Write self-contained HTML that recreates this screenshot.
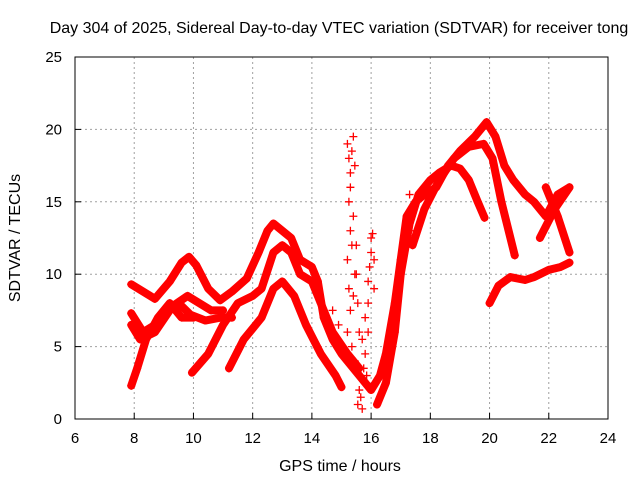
<!DOCTYPE html>
<html><head><meta charset="utf-8">
<style>
body{margin:0;background:#fff;}
svg text{font-family:"Liberation Sans",sans-serif;fill:#000;}
</style></head>
<body>
<svg id="chart" width="640" height="480" xmlns="http://www.w3.org/2000/svg">
<rect x="0" y="0" width="640" height="480" fill="#fff"/>
<text x="339" y="33" font-size="16" text-anchor="middle">Day 304 of 2025, Sidereal Day-to-day VTEC variation (SDTVAR) for receiver tong</text>
<g id="grid"></g>
<g id="ticks"></g>
<g id="series"></g>
<rect x="75" y="57" width="533" height="362" fill="none" stroke="#000" stroke-width="1"/>
<text x="340" y="471" font-size="16" text-anchor="middle">GPS time / hours</text>
<text x="20" y="238" font-size="16" text-anchor="middle" transform="rotate(-90 20 238)">SDTVAR / TECUs</text>
</svg>
<script>
const xTicks=[6,8,10,12,14,16,18,20,22,24];
const yTicks=[0,5,10,15,20,25];
const track1=[[7.9,9.3],[8.3,8.8],[8.7,8.3],[9.2,9.5],[9.6,10.8],[9.85,11.2],[10.1,10.6],[10.5,9.0],[10.9,8.2],[11.3,8.8],[11.8,9.7],[12.2,11.5],[12.5,13.0],[12.7,13.5],[13.0,13.0],[13.3,12.5],[13.6,11.0],[14.0,10.5],[14.2,9.5],[14.4,7.0],[14.7,5.5],[15.0,4.5],[15.4,3.5],[15.8,2.5],[16.0,2.0],[16.3,3.0],[16.5,4.5],[16.8,8.0],[17.0,11.0],[17.2,14.0],[17.5,15.0],[17.8,15.5],[18.2,16.0],[18.6,17.5],[19.0,18.5],[19.5,19.5],[19.9,20.5],[20.2,19.5],[20.5,17.5],[20.8,16.5],[21.2,15.5],[21.5,15.0],[21.9,14.0],[22.3,15.5],[22.7,16.0]];
const track2=[[7.9,7.3],[8.3,6.0],[8.7,6.5],[9.1,7.5],[9.5,8.0],[9.9,7.2],[10.4,6.8],[10.9,7.0],[11.3,7.0]];
const track3=[[7.9,6.5],[8.2,5.5],[8.7,6.0],[9.3,7.8],[9.8,8.5],[10.2,8.0],[10.6,7.5],[11.0,7.5]];
const track4=[[7.9,2.3],[8.1,3.5],[8.4,5.5],[8.8,7.0],[9.2,8.0],[9.6,7.0],[10.0,7.0]];
const track5=[[9.95,3.2],[10.5,4.5],[11.0,6.5],[11.5,8.0],[12.0,8.5],[12.3,9.0],[12.7,11.5],[13.0,12.0],[13.3,11.5],[13.6,10.0],[14.0,9.5],[14.3,8.0],[14.7,6.0],[15.2,4.5],[15.6,3.5]];
const track6=[[11.2,3.5],[11.7,5.5],[12.3,7.0],[12.7,9.0],[13.0,9.5],[13.4,8.5],[13.8,6.5],[14.3,4.5],[14.8,3.0],[15.0,2.2]];
const track7=[[16.2,1.0],[16.5,2.5],[16.8,6.0],[17.0,10.0],[17.3,13.5],[17.6,15.5],[18.0,16.5],[18.3,17.0],[18.7,17.5],[19.0,17.3],[19.3,16.5],[19.6,15.0],[19.83,13.9]];
const track8=[[17.4,12.0],[17.8,14.5],[18.3,16.5],[18.8,18.0],[19.3,18.8],[19.8,19.0],[20.1,18.0],[20.4,15.0],[20.85,11.3]];
const track9=[[20.0,8.0],[20.3,9.2],[20.7,9.8],[21.2,9.6],[21.5,9.8],[22.0,10.3],[22.4,10.5],[22.7,10.8]];
const track10=[[21.7,12.5],[22.2,14.5],[22.7,16.0]];
const track11=[[21.9,16.0],[22.3,14.0],[22.7,11.5]];
const spike1=[[15.2,19.0],[15.3,17.0],[15.25,15.0],[15.35,18.5],[15.4,19.5],[15.45,17.5],[15.3,13.0],[15.2,11.0],[15.25,9.0],[15.3,7.5],[15.2,6.0],[15.35,5.0],[15.5,10.0],[15.5,12.0],[15.55,8.0],[15.6,6.0],[15.45,4.0],[15.6,2.0],[15.55,1.0],[15.7,0.7],[15.8,4.5],[15.9,8.0],[15.95,10.5],[16.0,12.5],[16.05,12.8],[16.1,11.0],[15.9,6.0],[15.85,3.0],[15.25,18.0],[15.3,16.0],[15.4,14.0],[15.35,12.0],[15.45,10.0],[15.4,8.5],[15.9,9.5],[16.0,11.5],[15.8,7.0],[16.1,9.0],[15.7,5.5],[15.75,3.5],[15.65,1.5],[14.9,6.5],[14.7,7.5],[17.3,15.5],[17.5,13.0],[17.2,12.5]];
const tracks=[track1,track2,track3,track4,track5,track6,track7,track8,track9,track10,track11];
const X=v=>75+(v-6)*533/18, Y=v=>419-v*362/25;
const NS="http://www.w3.org/2000/svg";
function mk(tag,parent,attrs){const e=document.createElementNS(NS,tag);for(const k in attrs)e.setAttribute(k,attrs[k]);parent.appendChild(e);return e;}
const grid=document.getElementById('grid'),ticks=document.getElementById('ticks'),ser=document.getElementById('series');
xTicks.forEach(t=>{
 if(t>6&&t<24){const l=mk('line',grid,{x1:X(t),x2:X(t),y1:57,y2:419,stroke:'#a0a0a0','stroke-dasharray':'2,3'});
 
 }
 const tk=mk('line',ticks,{x1:X(t),x2:X(t),y1:419,y2:413,stroke:'#000'});
 
 
 const tx=mk('text',ticks,{x:X(t),y:443,'font-size':15,'text-anchor':'middle'});tx.textContent=t;
 
 
});
yTicks.forEach(t=>{
 if(t>0&&t<25){const l=mk('line',grid,{x1:75,x2:608,y1:Y(t),y2:Y(t),stroke:'#a0a0a0','stroke-dasharray':'2,3'});
 
 }
 const tk=mk('line',ticks,{x1:75,x2:81,y1:Y(t),y2:Y(t),stroke:'#000'});
 
 
 const tx=mk('text',ticks,{x:62,y:Y(t)+5,'font-size':15,'text-anchor':'end'});tx.textContent=t;
 
 
});
function plus(px,py){const p=mk('path',ser,{d:`M${px-4} ${py}h8M${px} ${py-4}v8`,stroke:'#f00','stroke-width':1.3});
 
 }
tracks.forEach(tr=>{
 const pl=mk('polyline',ser,{points:tr.map(p=>X(p[0])+','+Y(p[1])).join(' '),fill:'none',stroke:'#f00','stroke-width':8,'stroke-linejoin':'round','stroke-linecap':'round'});
 
 
 tr.forEach(p=>plus(X(p[0]),Y(p[1])));
});
spike1.forEach(p=>plus(X(p[0]),Y(p[1])));
</script>
</body></html>
